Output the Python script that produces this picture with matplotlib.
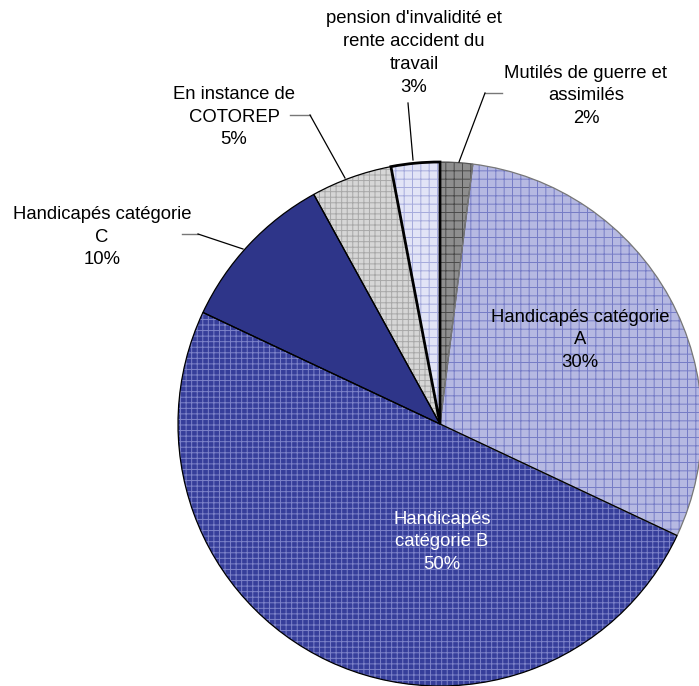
import matplotlib
matplotlib.use('Agg')
import matplotlib.pyplot as plt

plt.rcParams['font.family'] = ['Liberation Sans', 'DejaVu Sans']
plt.rcParams['hatch.linewidth'] = 0.7

# data, clockwise from 12 o'clock
names = ['Mutilés de guerre et\nassimilés',
         'Handicapés catégorie\nA',
         'Handicapés\ncatégorie B',
         'Handicapés catégorie\nC',
         'En instance de\nCOTOREP',
         "pension d'invalidité et\nrente accident du\ntravail"]
shares = [2, 30, 50, 10, 5, 3]

face_cols = ['#8e8e8e', '#b6b9e2', '#363e9a', '#2e3589', '#d6d6d6', '#e2e4f6']
hatch_cols = ['#4a4a4a', '#767cc6', '#7d83c9', '#2e3589', '#a8a8a8', '#a6abdc']
hatches = ['++', '++', '+++', '', '+++', '++']
text_cols = ['black', 'black', 'white', 'black', 'black', 'black']

W, H = 699, 686
fig = plt.figure(figsize=(W / 100, H / 100), dpi=100)
ax = fig.add_axes([0, 0, 1, 1])

cx, cy, r = 440, H - 424, 262

wedges, _ = ax.pie(shares, colors=face_cols, startangle=90, counterclock=False,
                   center=(cx, cy), radius=r, wedgeprops=dict(linewidth=0))
for w, hc, h in zip(wedges, hatch_cols, hatches):
    w.set_edgecolor(hc)
    w.set_hatch(h)

outline, _ = ax.pie(shares, startangle=90, counterclock=False, center=(cx, cy), radius=r,
                    wedgeprops=dict(fill=False, edgecolor='black', linewidth=0.9))
outline[-1].set_linewidth(2.0)
outline[0].set_edgecolor('#555555')
outline[1].set_edgecolor('#777777')

# labels (pixel positions of text centres)
label_pos = [(586, 96), (580, 340), (442, 542), (102, 237), (234, 117), (414, 53)]
for name, v, (tx, ty), tc in zip(names, shares, label_pos, text_cols):
    ax.text(tx, H - ty, f'{name}\n{v}%', ha='center', va='center', fontsize=13.3,
            color=tc, linespacing=1.45)

# leader lines
leaders = [[(502, 93), (485, 93), (459, 162)],
           [(408, 103), (413, 160)],
           [(290, 115), (310, 115), (345, 178)],
           [(182, 234), (198, 234), (243, 249)]]
for pts in leaders:
    xs = [p[0] for p in pts]
    ys = [H - p[1] for p in pts]
    if len(pts) == 3:
        ax.plot(xs[:2], ys[:2], color='#777777', lw=1)
        ax.plot(xs[1:], ys[1:], color='black', lw=0.9)
    else:
        ax.plot(xs, ys, color='black', lw=0.9)

ax.set_xlim(0, W)
ax.set_ylim(0, H)
ax.set_aspect('equal')
ax.axis('off')

plt.savefig('out.png', dpi=100)
plt.close()
